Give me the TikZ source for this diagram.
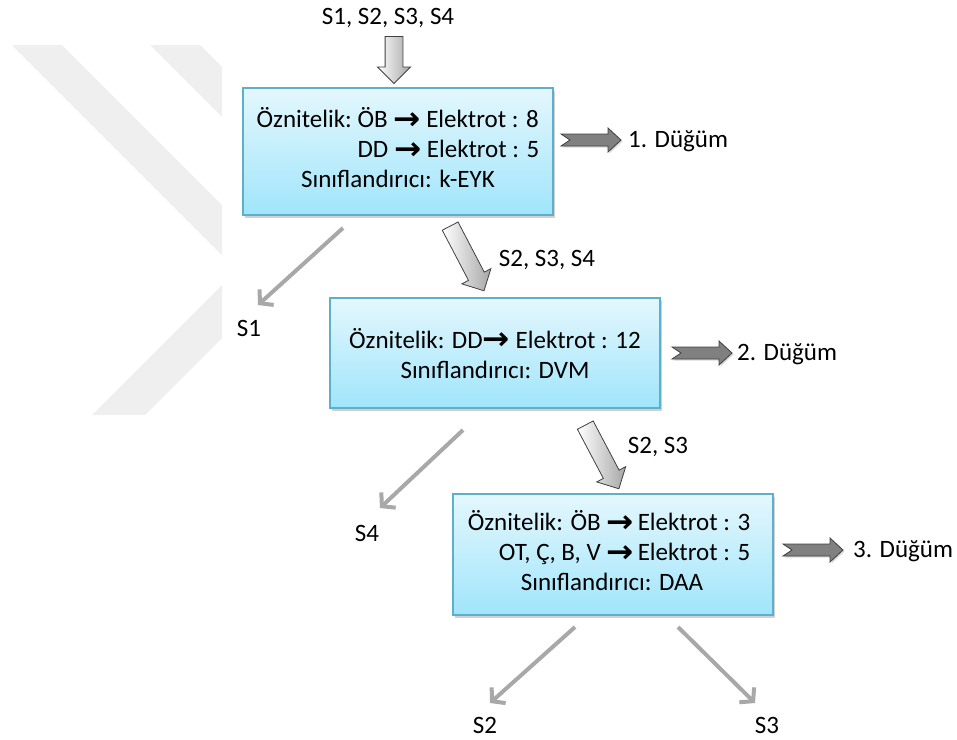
\documentclass[tikz,border=0pt]{standalone}
\usepackage{fontspec}
\usepackage{graphicx}
\setmainfont{Carlito}
\newfontfamily\arrowfont{DejaVu Sans}
\usetikzlibrary{shapes.arrows,shadows,arrows.meta}

\definecolor{boxtop}{RGB}{228,247,253}
\definecolor{boxbot}{RGB}{160,229,251}
\definecolor{boxline}{RGB}{92,176,204}
\definecolor{wmark}{RGB}{239,239,239}
\definecolor{leafgray}{RGB}{168,168,168}

% bold inline arrow used inside the box texts
\newcommand\elarrow{\raisebox{-1.5pt}{\scalebox{1.3}[1.25]{\arrowfont\bfseries →}}}

\begin{document}
\begin{tikzpicture}[x=1pt,y=-1pt,
  font=\fontsize{25}{30}\selectfont,
  box/.style={rectangle, draw=boxline, line width=1.1pt,
    top color=boxtop, bottom color=boxbot, inner sep=0pt,
    drop shadow={shadow xshift=2pt, shadow yshift=-2.5pt, opacity=0.3, fill=black!60}},
  blockarrow/.style={single arrow, draw=black!75, line width=0.8pt,
    left color=white, right color=black!35, inner xsep=0pt, inner ysep=8.5pt,
    single arrow head extend=7.5pt, minimum height=#1},
  notched/.style={draw=black!75, line width=0.8pt, fill=black!50,
    drop shadow={shadow xshift=1.5pt, shadow yshift=-1.5pt, opacity=0.25, fill=black!60}},
  leaf/.style={draw=leafgray, line width=4pt, -{Straight Barb[length=9pt,width=21pt]}},
  lbl/.style={inner sep=0pt},
  wm/.style={fill=wmark}]

\useasboundingbox (0,0) rectangle (957,739);

% faint chevron mark in the background
\fill[wm] (12,45) -- (62,45) -- (222,205) -- (222,255) -- cycle;
\fill[wm] (150,45) -- (200,45) -- (222,67) -- (222,117) -- cycle;
\fill[wm] (222,285) -- (222,338) -- (145,415) -- (92,415) -- cycle;

% decision nodes
\node[box, minimum width=310pt, minimum height=127pt] (b1) at (398,151.5) {%
  \begin{tabular}{@{}r@{}l@{}}
  Öznitelik: & \ ÖB \elarrow\ Elektrot : 8\\
  & \ DD \elarrow\ Elektrot : 5\\
  \multicolumn{2}{c}{Sınıflandırıcı: k-EYK}
  \end{tabular}};
\node[box, minimum width=330pt, minimum height=110pt] (b2) at (495,353) {%
  \raisebox{-4pt}[\height][\depth]{\begin{tabular}{@{}c@{}}
  Öznitelik: DD\elarrow\ Elektrot : 12\\
  Sınıflandırıcı: DVM
  \end{tabular}}};
\node[box, minimum width=320pt, minimum height=121pt] (b3) at (613,554.5) {%
  \begin{tabular}{@{}r@{}l@{}}
  Öznitelik: ÖB & \ \elarrow\,Elektrot : 3\\
  OT, Ç, B, V & \ \elarrow\,Elektrot : 5\\
  \multicolumn{2}{c}{\hspace*{6pt}Sınıflandırıcı: DAA}
  \end{tabular}\hspace*{8pt}};

% sample sets passed down the tree
\node[lbl] (in0) at (388,18) {S1, S2, S3, S4};
\node[lbl] (in1) at (547,260) {S2, S3, S4};
\node[lbl] (in2) at (658,447) {S2, S3};

\node[blockarrow=47pt, rotate=-90] (a0) at (394,55.5) {};
\node[blockarrow=73pt, rotate=-62.4] (a1) at (465,254.5) {};
\node[blockarrow=72pt, rotate=-62.2] (a2) at (600,453) {};

% node labels with notched arrows
\coordinate (n1) at (561,140);
\coordinate (n2) at (672,353);
\coordinate (n3) at (783,550);
\foreach \n in {n1,n2,n3}
  \draw[notched] (\n) ++(0,-6) -- ++(47,0) -- ++(0,-6) -- ++(13,12)
    -- ++(-13,12) -- ++(0,-6) -- ++(-47,0) -- ++(9,-6) -- cycle;
\node[lbl, anchor=west] (d1) at (628,141) {1. Düğüm};
\node[lbl, anchor=west] (d2) at (737,354) {2. Düğüm};
\node[lbl, anchor=west] (d3) at (853,551) {3. Düğüm};

% classified samples
\node[lbl] (s1) at (249,328) {S1};
\node[lbl] (s4) at (367,533) {S4};
\node[lbl] (s2) at (485,725) {S2};
\node[lbl] (s3) at (767,725) {S3};

\coordinate (f1) at (343,228);  \coordinate (t1) at (258,305);
\coordinate (f4) at (463,430);  \coordinate (t4) at (380,508);
\coordinate (f2) at (575,627);  \coordinate (t2) at (490,703);
\coordinate (f3) at (678,627);  \coordinate (t3) at (755,703);
\draw[leaf] (f1) -- (t1);
\draw[leaf] (f4) -- (t4);
\draw[leaf] (f2) -- (t2);
\draw[leaf] (f3) -- (t3);
\end{tikzpicture}
\end{document}
